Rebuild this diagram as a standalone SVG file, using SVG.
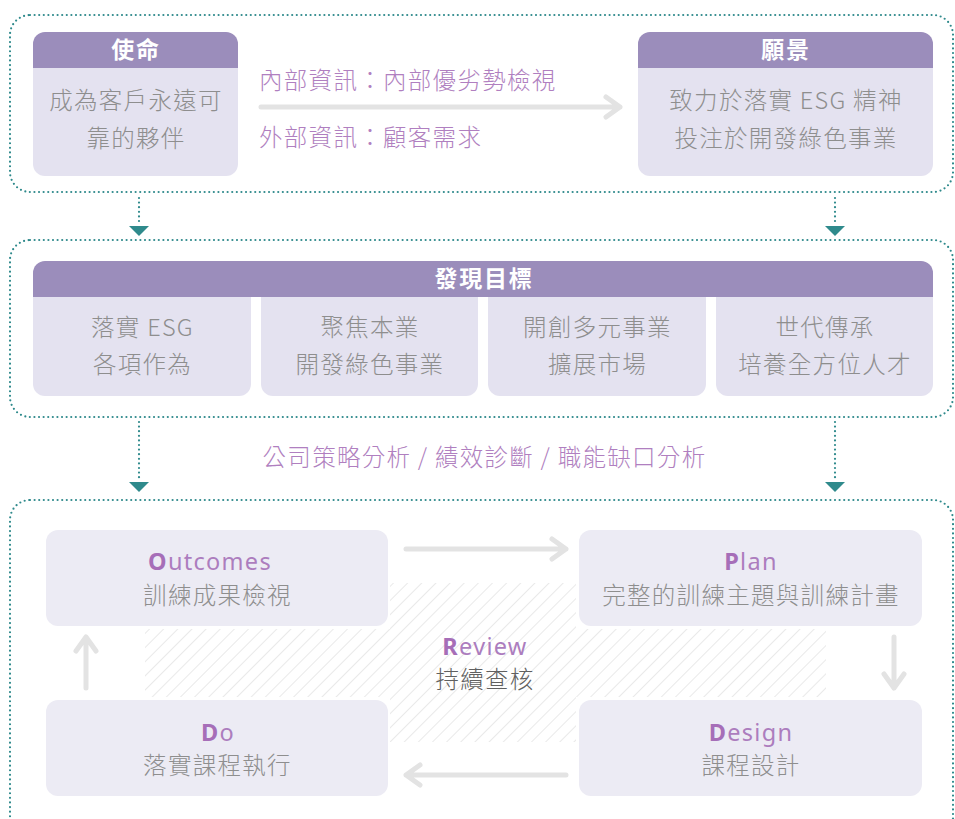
<svg xmlns="http://www.w3.org/2000/svg" width="955" height="819" viewBox="0 0 955 819">
<defs>
<style>
.dot{fill:none;stroke:#2f8a8c;stroke-width:2.2;stroke-dasharray:0 4.6;stroke-linecap:round}
.head{fill:#9b8dbb}
.body{fill:#e4e2f0}
.card{fill:#ecebf4}
.ht{font-family:"Noto Sans CJK TC","Noto Sans",sans-serif;font-size:23px;font-weight:700;fill:#ffffff;text-anchor:middle;letter-spacing:1.8px}
.bt{font-family:"Noto Sans CJK TC","Noto Sans",sans-serif;font-size:23.5px;font-weight:300;fill:#8e8e8e;text-anchor:middle;letter-spacing:1.3px}
.pt{font-family:"Noto Sans CJK TC","Noto Sans",sans-serif;font-size:23.5px;font-weight:300;fill:#b07fc0;letter-spacing:1.3px}
.en{font-family:"Noto Sans","Noto Sans CJK TC",sans-serif;font-size:23.5px;font-weight:400;fill:#ac7dbe;text-anchor:middle;letter-spacing:1.3px}
.en tspan.b{font-weight:700;fill:#a66eb8}
.gr{fill:none;stroke:#e3e3e3;stroke-width:5;stroke-linecap:round;stroke-linejoin:round}
.tri{fill:#2f8a8c}
</style>
<pattern id="hatch" patternUnits="userSpaceOnUse" width="10" height="10" patternTransform="rotate(45)">
<rect width="10" height="10" fill="#ffffff"/>
<line x1="0" y1="0" x2="0" y2="10" stroke="#dedede" stroke-width="1.3"/>
</pattern>
</defs>
<rect width="955" height="819" fill="#ffffff"/>

<g id="frames">
<rect x="10" y="15" width="943" height="177" rx="20" class="dot"/>
<rect x="10" y="240" width="943" height="177" rx="20" class="dot"/>
<rect x="10" y="500" width="943" height="340" rx="20" class="dot"/>
</g>

<g id="mission">
<path d="M33 44a12 12 0 0 1 12-12h181a12 12 0 0 1 12 12v24H33z" class="head"/>
<path d="M33 68h205v96a12 12 0 0 1-12 12H45a12 12 0 0 1-12-12z" class="body"/>
<text x="136" y="58" class="ht">使命</text>
<text x="136" y="109" class="bt">成為客戶永遠可</text>
<text x="136" y="147" class="bt">靠的夥伴</text>
</g>

<g id="vision">
<path d="M638 44a12 12 0 0 1 12-12h271a12 12 0 0 1 12 12v24H638z" class="head"/>
<path d="M638 68h295v96a12 12 0 0 1-12 12H650a12 12 0 0 1-12-12z" class="body"/>
<text x="786" y="58" class="ht">願景</text>
<text x="786" y="109" class="bt">致力於落實 ESG 精神</text>
<text x="786" y="147" class="bt">投注於開發綠色事業</text>
</g>

<g id="info-labels">
<text x="259" y="89" class="pt">內部資訊：內部優劣勢檢視</text>
<text x="259" y="146" class="pt">外部資訊：顧客需求</text>
</g>

<g id="goals">
<path d="M33 273a12 12 0 0 1 12-12h876a12 12 0 0 1 12 12v24H33z" class="head"/>
<text x="484" y="287" class="ht">發現目標</text>
<path d="M33 297h218v87a12 12 0 0 1-12 12H45a12 12 0 0 1-12-12z" class="body"/>
<text x="142.5" y="336" class="bt">落實 ESG</text>
<text x="142.5" y="373" class="bt">各項作為</text>
</g>
<g id="goal2">
<path d="M261 297h217v87a12 12 0 0 1-12 12H273a12 12 0 0 1-12-12z" class="body"/>
<text x="370" y="336" class="bt">聚焦本業</text>
<text x="370" y="373" class="bt">開發綠色事業</text>
</g>
<g id="goal3">
<path d="M488 297h218v87a12 12 0 0 1-12 12H500a12 12 0 0 1-12-12z" class="body"/>
<text x="597.5" y="336" class="bt">開創多元事業</text>
<text x="597.5" y="373" class="bt">擴展市場</text>
</g>
<g id="goal4">
<path d="M716 297h217v87a12 12 0 0 1-12 12H728a12 12 0 0 1-12-12z" class="body"/>
<text x="825" y="336" class="bt">世代傳承</text>
<text x="825" y="373" class="bt">培養全方位人才</text>
</g>

<g id="analysis-label">
<text x="484.5" y="466" class="pt" text-anchor="middle">公司策略分析 / 績效診斷 / 職能缺口分析</text>
</g>

<g id="review">
<path d="M145 629H390V583H576V629H826V697H576V742H390V697H145z" fill="url(#hatch)"/>
<text x="485" y="655" class="en"><tspan class="b">R</tspan>eview</text>
<text x="485" y="688" class="bt" style="fill:#606060">持續查核</text>
</g>

<g id="outcomes">
<rect x="46" y="530" width="342" height="96" rx="12" class="card"/>
<text x="210" y="570" class="en"><tspan class="b">O</tspan>utcomes</text>
<text x="217.5" y="604" class="bt">訓練成果檢視</text>
</g>
<g id="plan">
<rect x="579" y="530" width="343" height="96" rx="12" class="card"/>
<text x="751" y="570" class="en"><tspan class="b">P</tspan>lan</text>
<text x="751" y="604" class="bt">完整的訓練主題與訓練計畫</text>
</g>
<g id="do">
<rect x="46" y="700" width="342" height="96" rx="12" class="card"/>
<text x="218" y="741" class="en"><tspan class="b">D</tspan>o</text>
<text x="217.5" y="774" class="bt">落實課程執行</text>
</g>
<g id="design">
<rect x="579" y="700" width="343" height="96" rx="12" class="card"/>
<text x="751" y="741" class="en"><tspan class="b">D</tspan>esign</text>
<text x="751" y="774" class="bt">課程設計</text>
</g>

<g id="connectors">
<path d="M261 107H620M606 97l14 10-14 10" class="gr"/>
<path d="M139 198V224" class="dot"/>
<path d="M129 226h20l-10 10z" class="tri"/>
<path d="M835 198V224" class="dot"/>
<path d="M825 226h20l-10 10z" class="tri"/>
<path d="M139 422V480" class="dot"/>
<path d="M129 482h20l-10 10z" class="tri"/>
<path d="M835 422V480" class="dot"/>
<path d="M825 482h20l-10 10z" class="tri"/>
<path d="M406 549H566M552 539l14 10-14 10" class="gr"/>
<path d="M566 775H406M420 765l-14 10 14 10" class="gr"/>
<path d="M86 688V637M76 651l10-14 10 14" class="gr"/>
<path d="M894 637V688M884 674l10 14 10-14" class="gr"/>
</g>
</svg>
